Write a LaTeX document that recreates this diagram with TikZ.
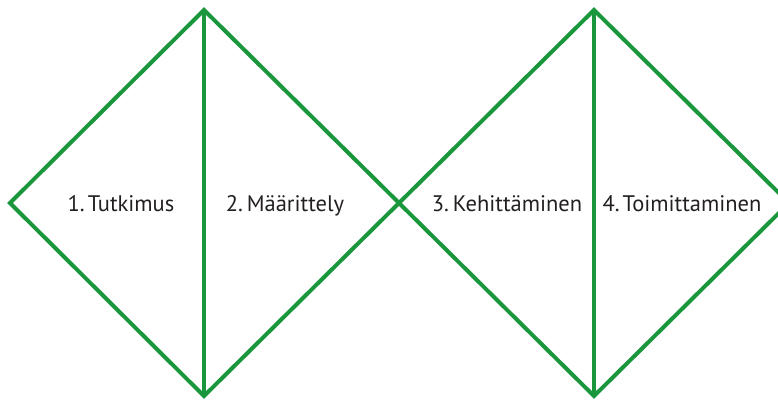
\documentclass[tikz,border=0pt]{standalone}
\usepackage{fontspec}
\setmainfont{PT Sans}
\usepackage{xcolor}
\definecolor{diamondgreen}{HTML}{1A963C}
\definecolor{textdark}{HTML}{231F20}
\usetikzlibrary{positioning}

\begin{document}
\begin{tikzpicture}[
        x=1pt, y=-1pt,
        edge/.style={draw=diamondgreen, line width=4pt, line join=miter},
        phase/.style={font=\fontsize{22.5}{26}\selectfont, text=textdark, inner sep=0pt, anchor=base}
    ]
        \clip (0,0) rectangle (778,399);
        \useasboundingbox (0,0) rectangle (778,399);

        % Diamond corners
        \coordinate (l1) at (10,203);
        \coordinate (t1) at (204,10);
        \coordinate (b1) at (204,396);
        \coordinate (mid) at (399,203);
        \coordinate (t2) at (594,10);
        \coordinate (b2) at (594,396);
        \coordinate (r2) at (789,203);

        % Left diamond
        \draw[edge] (l1) -- (t1) -- (mid) -- (b1) -- cycle;
        \draw[edge] (t1) -- (b1);

        % Right diamond
        \draw[edge] (mid) -- (t2) -- (r2) -- (b2) -- cycle;
        \draw[edge] (t2) -- (b2);

        % Phases
        \node[phase] (tutkimus) at (121,211) {1.\kern3pt{}Tutkimus};
        \node[phase] (maarittely) at (285,211) {2.\kern4pt{}Määrittely};
        \node[phase] (kehittaminen) at (507,211) {3.\kern4pt{}Kehittäminen};
        \node[phase] (toimittaminen) at (682,211) {4.\kern3pt{}Toimittaminen};
    \end{tikzpicture}
\end{document}
